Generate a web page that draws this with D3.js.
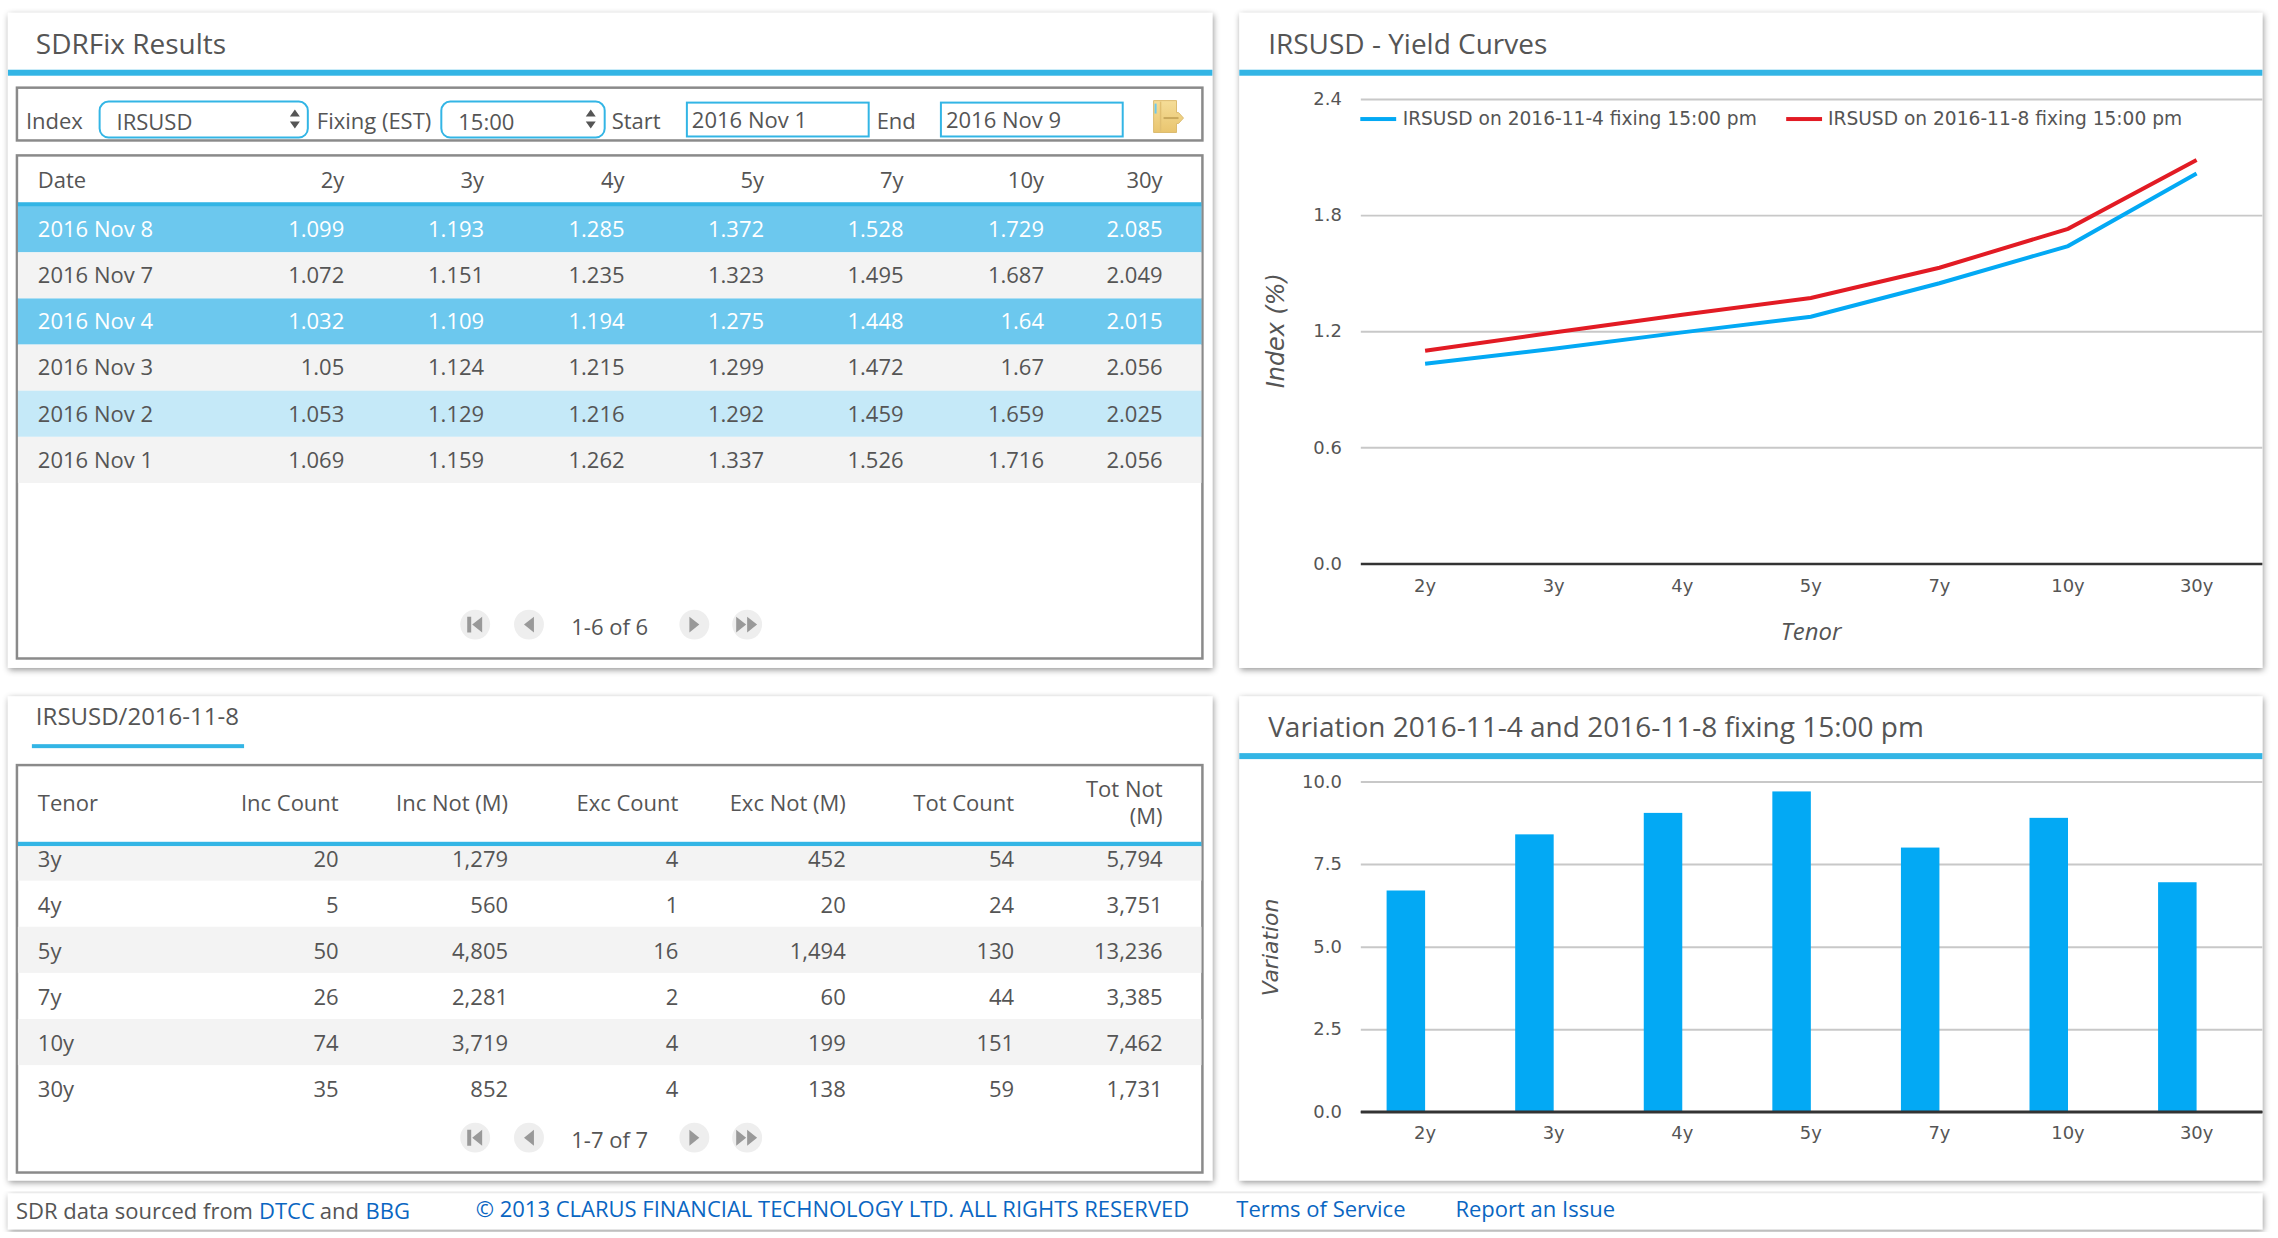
<!DOCTYPE html>
<html><head><meta charset="utf-8">
<script src="https://cdn.jsdelivr.net/npm/d3@7"></script>
<style>
html,body{margin:0;padding:0;background:#fff;overflow:hidden}
svg{display:block}
text{font-family:"Open Sans",sans-serif;fill:#555}
.tick text{font-family:"DejaVu Sans",sans-serif}
</style></head><body>
<script>
// ---- data ----
const tenors = ["2y","3y","4y","5y","7y","10y","30y"];
const fixingDates = ["2016 Nov 8","2016 Nov 7","2016 Nov 4","2016 Nov 3","2016 Nov 2","2016 Nov 1"];
const rowStates = ["selected","plain","selected","plain","hover","plain"];
const nov8 = [1.099,1.193,1.285,1.372,1.528,1.729,2.085];
const nov7 = [1.072,1.151,1.235,1.323,1.495,1.687,2.049];
const nov4 = [1.032,1.109,1.194,1.275,1.448,1.64,2.015];
const nov3 = [1.05,1.124,1.215,1.299,1.472,1.67,2.056];
const nov2 = [1.053,1.129,1.216,1.292,1.459,1.659,2.025];
const nov1 = [1.069,1.159,1.262,1.337,1.526,1.716,2.056];
const fixingRows = [nov8,nov7,nov4,nov3,nov2,nov1];
const variation = [6.7,8.4,9.05,9.7,8.0,8.9,6.95];
const tradeTenors = ["3y","4y","5y","7y","10y","30y"];
const incCount = [20,5,50,26,74,35];
const incNot = [1279,560,4805,2281,3719,852];
const excCount = [4,1,16,2,4,4];
const excNot = [452,20,1494,60,199,138];
const totCount = [54,24,130,44,151,59];
const totNot = [5794,3751,13236,3385,7462,1731];
const tradeCols = [incCount,incNot,excCount,excNot,totCount,totNot];
const tradeHeads = ["Inc Count","Inc Not (M)","Exc Count","Exc Not (M)","Tot Count"];
const lineTicks = [0,0.6,1.2,1.8,2.4];
const barTicks = [0,2.5,5,7.5,10];

// ---- layout / colours ----
const BLUE="#33b5e5", LINE_BLUE="#03a9f4", RED="#e21b24", BOX="#8a8a8a";
const root=d3.select("body").append("svg").attr("width",2278).attr("height",1238);
const defs=root.append("defs");
defs.append("filter").attr("id","sh").attr("x","-3%").attr("y","-5%").attr("width","106%").attr("height","112%")
  .append("feDropShadow").attr("dx",1).attr("dy",2).attr("stdDeviation",3).attr("flood-color","#000").attr("flood-opacity",.42);
const grad=defs.append("linearGradient").attr("id","gold").attr("x1",0).attr("y1",0).attr("x2",0).attr("y2",1);
grad.append("stop").attr("offset",0).attr("stop-color","#f5dd98");
grad.append("stop").attr("offset",1).attr("stop-color","#e9c56f");
const svg=root.append("g").attr("transform","scale(0.9962)");

const panels=[[8,13,1209,657.5],[1244,13,1027,657.5],[8,699,1209,486],[1244,699,1027,486],[8,1198,2263,36]];
svg.selectAll("rect.panel").data(panels).join("rect").attr("class","panel")
  .attr("x",d=>d[0]).attr("y",d=>d[1]).attr("width",d=>d[2]).attr("height",d=>d[3])
  .attr("fill","#fff").attr("filter","url(#sh)");

function text(x,y,s,size,o={}){
  return svg.append("text").attr("x",x).attr("y",y).text(s).attr("font-size",size)
    .attr("text-anchor",o.anchor||"start").attr("fill",o.fill||"#555").style("fill",o.fill||"#555")
    .style("font-style",o.italic?"italic":null).style("font-family",o.family||null);
}
function rect(x,y,w,h,fill,o={}){
  return svg.append("rect").attr("x",x).attr("y",y).attr("width",w).attr("height",h).attr("fill",fill)
    .attr("stroke",o.stroke||"none").attr("stroke-width",o.sw||0).attr("rx",o.rx||0);
}
const FS=22.1;
// titles and header bars
text(36,54,"SDRFix Results",28.1);
text(1273,54,"IRSUSD - Yield Curves",28.1);
text(1273,739.5,"Variation 2016-11-4 and 2016-11-8 fixing 15:00 pm",28.1);
text(36,728,"IRSUSD/2016-11-8",24.1);
rect(8,70,1209,6,BLUE); rect(1244,70,1027,6,BLUE);
rect(1244,756,1027,6,BLUE); rect(32,747,213,4,BLUE);

// controls
rect(17,88,1190,53,"none",{stroke:BOX,sw:2.5});
text(26,129,"Index",FS);
rect(100,102,209,36,"#fff",{stroke:BLUE,sw:2,rx:9});
text(117,130,"IRSUSD",FS);
text(318,129,"Fixing (EST)",FS);
rect(443,102,164,36,"#fff",{stroke:BLUE,sw:2,rx:9});
text(460,130,"15:00",FS);
text(614,129,"Start",FS);
rect(689.5,103,182.5,34,"#fff",{stroke:BLUE,sw:2});
text(694.5,128,"2016 Nov 1",FS);
text(880,129,"End",FS);
rect(944.5,103,182.5,34,"#fff",{stroke:BLUE,sw:2});
text(949.5,128,"2016 Nov 9",FS);
[296,593].forEach(x=>{
  svg.append("path").attr("d",`M${x-5} 117L${x} 110L${x+5} 117Z M${x-5} 122L${x} 129L${x+5} 122Z`).attr("fill","#555");
});
// export icon
svg.append("path").attr("d","M1158 101H1181V113H1183L1188 118.5L1183 124H1181V133H1158Z").attr("fill","url(#gold)").attr("stroke","#dcbc70").attr("stroke-width",1);
svg.append("path").attr("d","M1165 102V132").attr("stroke","#e0bf72").attr("stroke-width",1.5);
svg.append("path").attr("d","M1160 104V114").attr("stroke","#6cc8ee").attr("stroke-width",2);
svg.append("path").attr("d","M1168 118.5H1183").attr("stroke","#c8a85c").attr("stroke-width",2);

// results table
rect(17,156,1190,505,"none",{stroke:BOX,sw:2.5});
const resCols=[345.6,486,627,767,907,1048,1167];
const ROW=46.3, R0=207;
text(38,189,"Date",FS);
tenors.forEach((t,i)=>text(resCols[i],189,t,FS,{anchor:"end"}));
rect(18,203,1188,5,BLUE);
const stateFill={selected:"#6cc8ee",plain:"#f3f3f3",hover:"#c5e9f8"};
const resRow=svg.append("g").selectAll("g").data(fixingRows).join("g")
  .attr("transform",(d,i)=>`translate(0,${R0+i*ROW})`);
resRow.append("rect").attr("x",18).attr("width",1188).attr("height",ROW).attr("fill",(d,i)=>stateFill[rowStates[i]]);
const resInk=(i)=>rowStates[i]==="selected"?"#fff":"#555";
resRow.append("text").attr("x",38).attr("y",31).attr("font-size",FS).text((d,i)=>fixingDates[i]).style("fill",(d,i)=>resInk(i));
resRow.each(function(row,ri){
  d3.select(this).selectAll("text.v").data(row).join("text").attr("class","v")
    .attr("x",(d,i)=>resCols[i]).attr("y",31).attr("font-size",FS).attr("text-anchor","end")
    .text(d=>String(d)).style("fill",resInk(ri));
});

function pager(y,label,ty){
  const xs=[477,531,697,750];
  svg.append("g").selectAll("circle").data(xs).join("circle").attr("cx",d=>d).attr("cy",y).attr("r",15).attr("fill","#eee");
  const g="#999"; const p=(d)=>svg.append("path").attr("d",d).attr("fill",g);
  p(`M${xs[0]-8} ${y-8}h4v16h-4Z M${xs[0]+7} ${y-8}v16l-10-8Z`);
  p(`M${xs[1]+5} ${y-8}v16l-10-8Z`);
  p(`M${xs[2]-5} ${y-8}v16l10-8Z`);
  p(`M${xs[3]-11} ${y-8}v16l10-8Z M${xs[3]} ${y-8}v16l10-8Z`);
  text(612,ty,label,FS,{anchor:"middle"});
}
pager(627,"1-6 of 6",637.5);

// trades table
rect(17,768,1190,409,"none",{stroke:BOX,sw:2.5});
const trCols=[340,510,681,849,1018,1167];
text(38,814,"Tenor",FS);
tradeHeads.forEach((t,i)=>text(trCols[i],814,t,FS,{anchor:"end"}));
text(1167,800,"Tot Not",FS,{anchor:"end"});
text(1167,827,"(M)",FS,{anchor:"end"});
rect(18,845,1188,4.5,BLUE);
const trBottom=884, trFmt=d3.format(",");
tradeTenors.forEach((t,i)=>{
  const bottom=trBottom+i*ROW, top=i===0?849.5:bottom-ROW, base=870+i*46.2;
  if(i%2===0) rect(18,top,1188,bottom-top,"#f3f3f3");
  text(38,base,t,FS);
  tradeCols.forEach((c,j)=>text(trCols[j],base,trFmt(c[i]),FS,{anchor:"end"}));
});
pager(1142,"1-7 of 7",1152.5);

// footer
const link="#0a66c2";
text(16,1224,"SDR data sourced from",FS);
text(260,1224,"DTCC",FS,{fill:link});
text(321,1224,"and",FS);
text(367,1224,"BBG",FS,{fill:link});
text(477.5,1222,"© 2013 CLARUS FINANCIAL TECHNOLOGY LTD. ALL RIGHTS RESERVED",FS,{fill:link});
text(1241,1222,"Terms of Service",FS,{fill:link});
text(1461,1222,"Report an Issue",FS,{fill:link});

// shared chart pieces
const X0=1366,X1=2271;
function axes(y,ticks,fmt){
  const gy=svg.append("g").attr("transform",`translate(${X0},0)`)
    .call(d3.axisLeft(y).tickValues(ticks).tickFormat(d3.format(fmt)).tickSize(-(X1-X0)).tickPadding(19));
  gy.select(".domain").remove();
  gy.selectAll("line").attr("stroke",d=>d===0?"#333":"#c8c8c8").attr("stroke-width",d=>d===0?2.5:2);
  gy.selectAll("text").attr("font-size",18).style("fill","#555");
}
function tenorAxis(x,yPos,pad){
  const g=svg.append("g").attr("transform",`translate(0,${yPos})`)
    .call(d3.axisBottom(x).tickSize(0).tickPadding(pad));
  g.select(".domain").remove();
  g.selectAll("text").attr("font-size",18).style("fill","#555");
}

// line chart
const xBand=d3.scaleBand().domain(tenors).range([X0,2269.5]);
const yLine=d3.scaleLinear().domain([0,2.4]).range([565.6,99.4]);
axes(yLine,lineTicks,".1f");
tenorAxis(xBand,565.6,16);
const line=d3.line().x((d,i)=>xBand(tenors[i])+xBand.bandwidth()/2).y(d=>yLine(d));
svg.append("path").attr("d",line(nov4)).attr("fill","none").attr("stroke",LINE_BLUE).attr("stroke-width",4);
svg.append("path").attr("d",line(nov8)).attr("fill","none").attr("stroke",RED).attr("stroke-width",4);
const legendFont="DejaVu Sans";
rect(1365.5,117.5,36,4,LINE_BLUE);
text(1408,125,"IRSUSD on 2016-11-4 fixing 15:00 pm",18.7,{family:legendFont});
rect(1793,117.5,36,4,RED);
text(1835,125,"IRSUSD on 2016-11-8 fixing 15:00 pm",18.7,{family:legendFont});
svg.append("text").attr("transform","translate(1289,332) rotate(-90)").attr("text-anchor","middle")
  .attr("font-size",24).style("font-style","italic").style("font-family",legendFont).text("Index (%)");
text(1818,642,"Tenor",24,{anchor:"middle",italic:true});

// bar chart
const yBar=d3.scaleLinear().domain([0,10]).range([1116,784.5]);
axes(yBar,barTicks,".1f");
tenorAxis(xBand,1116,15);
const xSub=d3.scaleBand().domain(["variation","empty"]).range([0,xBand.bandwidth()]).paddingOuter(0.67);
svg.append("g").selectAll("rect").data(variation).join("rect")
  .attr("x",(d,i)=>xBand(tenors[i])+xSub("variation"))
  .attr("width",xSub.bandwidth())
  .attr("y",d=>yBar(d)).attr("height",d=>yBar(0)-yBar(d)).attr("fill",LINE_BLUE);
svg.append("text").attr("transform","translate(1283,951) rotate(-90)").attr("text-anchor","middle")
  .attr("font-size",22).style("font-style","italic").style("font-family",legendFont).text("Variation");
// baseline above the bars
svg.append("line").attr("x1",X0).attr("x2",X1).attr("y1",yBar(0)).attr("y2",yBar(0)).attr("stroke","#333").attr("stroke-width",2.5);
</script>
</body></html>
